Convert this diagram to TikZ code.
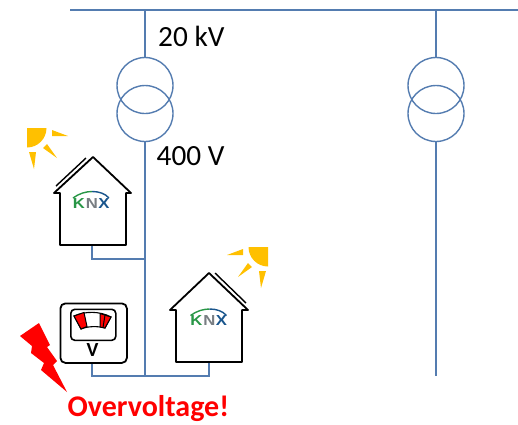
\documentclass[tikz,border=0pt]{standalone}
\usepackage{fontspec}
\setmainfont{Carlito}
\newfontfamily\knxfont{Liberation Sans}
\definecolor{linec}{RGB}{84,124,176}
\definecolor{sunc}{RGB}{255,192,0}
\definecolor{knxg}{RGB}{40,150,70}
\definecolor{knxb}{RGB}{25,85,140}
\definecolor{knxn}{RGB}{120,125,130}
\tikzset{
 x=1pt,y=-1pt,
 wire/.style={draw=linec,line width=1.4pt},
 trafo/.style={draw=linec,line width=1.4pt,circle,minimum size=56pt,inner sep=0pt},
 house/.style={draw=black,line width=1.8pt,line join=round},
 lbl/.style={inner sep=0pt,font=\fontsize{29.3}{29.3}\selectfont},
 sunfill/.style={fill=sunc,draw=none},
 knxlet/.style={inner sep=0pt,font=\knxfont\bfseries\fontsize{14.5}{14.5}\selectfont},
 pics/knx/.style={code={
  \node[knxlet,text=knxg] (-k) at (-13,0) {\scalebox{1.15}[1]{K}};
  \node[knxlet,text=knxn] (-n) at (0,0) {\scalebox{1.15}[1]{N}};
  \node[knxlet,text=knxb] (-x) at (12,0) {\scalebox{1.15}[1]{X}};
  \draw[knxg,line width=1.4pt] (-19,-5.5) .. controls (-13,-10) and (-6,-12) .. (0,-12);
  \draw[knxb,line width=1.4pt] (0,-12) .. controls (7,-12) and (13,-10) .. (17,-5.5);
 }},
 pics/sun/.style={code={
  \fill[sunfill] (0,0) -- (19.5,0) arc[start angle=0,end angle=90,radius=19.5] -- cycle;
  \fill[sunfill] (25,2) -- (41,8) -- (25,8) -- cycle;
  \fill[sunfill] (16,20) -- (20,16) -- (30,30) -- cycle;
  \fill[sunfill] (2,24) -- (9,24) -- (7,41) -- cycle;
 }}
}
\begin{document}
\begin{tikzpicture}
\useasboundingbox (0,0) rectangle (518,424);
% grid
\coordinate (busL) at (70,10);
\coordinate (busR) at (518,10);
\coordinate (feedA) at (145,10);
\coordinate (feedB) at (436,10);
\coordinate (endA) at (145,376);
\coordinate (endB) at (436,376);
\coordinate (tapA) at (145,259);
\node[trafo] (t1a) at (145,85.5) {};
\node[trafo] (t1b) at (145,113.5) {};
\node[trafo] (t2a) at (436,85.5) {};
\node[trafo] (t2b) at (436,113.5) {};
\draw[wire] (busL) -- (busR);
\draw[wire] (feedA) -- (t1a.north);
\draw[wire] (t1b.south) -- (endA);
\draw[wire] (feedB) -- (t2a.north);
\draw[wire] (t2b.south) -- (endB);
\node[lbl,anchor=base west] (hv) at (158,46) {20 kV};
\node[lbl,anchor=base west] (lv) at (156.5,165) {400 V};
% left house
\coordinate (h1b) at (92,245);
\coordinate (h2b) at (209,362);
\coordinate (mb) at (92,362);
\draw[wire] (h1b) |- (tapA);
\draw[wire] (mb) |- (endA);
\draw[wire] (h2b) |- (endA);
\draw[house] (60,245) -- (60,193) -- (54,193) -- (93,157) -- (131,193) -- (126,193) -- (126,245) -- cycle;
\draw[draw=black,line width=1.4pt] (56,186) -- (86,158);
\pic (k1) at (92,203.5) {knx};
\pic at (27,128) {sun};
% right house
\draw[house] (176,362) -- (176,310) -- (170,310) -- (209,273) -- (248,310) -- (242,310) -- (242,362) -- cycle;
\draw[draw=black,line width=1.4pt] (215,273) -- (246,303);
\pic (k2) at (209.5,321) {knx};
\pic[xscale=-1] at (268,247) {sun};
% meter
\node[draw=black,line width=1.8pt,rounded corners=5pt,minimum width=66.5pt,minimum height=59.5pt,inner sep=0pt,anchor=north west] (meter) at (59.5,302.5) {};
\node[draw=black,line width=1.6pt,rounded corners=4pt,minimum width=45pt,minimum height=31pt,inner sep=0pt,anchor=north west] (dial) at (70,308.5) {};
\draw[black,line width=1.1pt,fill=white] (74,316) .. controls (85,311) and (100,311) .. (111,317) -- (105,328) .. controls (98,326) and (88,326) .. (81,329) -- cycle;
\fill[red,draw=black,line width=1pt] (74,316) -- (84,312.5) -- (87,326.5) -- (81,329) -- cycle;
\fill[red,draw=black,line width=1pt] (111,317) -- (100,313.5) -- (100,327) -- (105,328) -- cycle;
\draw[black,line width=1pt] (105,315) -- (103,327.5);
\node[inner sep=0pt,font=\bfseries\fontsize{20}{20}\selectfont] (vlab) at (92.5,350.5) {V};
% bolt
\fill[red] (39,323) -- (20,336) -- (32,346) -- (31,353) -- (44,363) -- (41,370) -- (67,392) -- (53,365) -- (57,361) -- (47,347) -- (50,345) -- cycle;
\node[inner sep=0pt,anchor=base west,text=red,font=\bfseries\fontsize{30}{30}\selectfont] (ov) at (67.5,416.5) {Overvoltage!};
\end{tikzpicture}
\end{document}
